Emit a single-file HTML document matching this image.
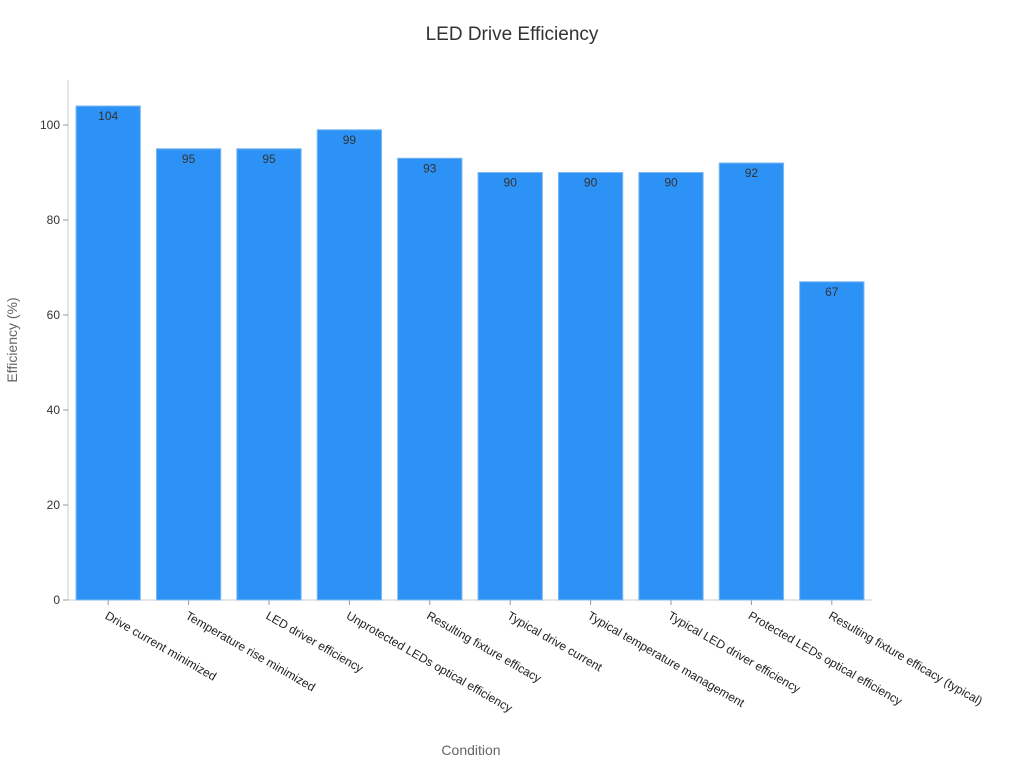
<!DOCTYPE html>
<html><head><meta charset="utf-8"><style>
body{margin:0;background:#fff;font-family:"Liberation Sans","DejaVu Sans",sans-serif}
</style></head><body>
<svg id="chart" width="1024" height="768">
<text x="512" y="40" text-anchor="middle" font-size="19" fill="#333">LED Drive Efficiency</text>
<text x="471" y="755" text-anchor="middle" font-size="14" fill="#666">Condition</text>
<text transform="translate(17,340) rotate(-90)" text-anchor="middle" font-size="14" fill="#666">Efficiency (%)</text>
<g id="axes"></g><g id="bars"></g>
</svg>
<script>
const categories=["Drive current minimized","Temperature rise minimized","LED driver efficiency","Unprotected LEDs optical efficiency","Resulting fixture efficacy","Typical drive current","Typical temperature management","Typical LED driver efficiency","Protected LEDs optical efficiency","Resulting fixture efficacy (typical)"];
const values=[104,95,95,99,93,90,90,90,92,67];
const yTicks=[0,20,40,60,80,100];
const NS="http://www.w3.org/2000/svg";
const x0=68,x1=872,yBase=600,pxPerUnit=4.75;
const band=(x1-x0)/categories.length;
function xPos(i){return x0+band*i+band/2;}
function yPos(v){return yBase-v*pxPerUnit;}
function mk(t,a,p){const e=document.createElementNS(NS,t);for(const k in a)e.setAttribute(k,a[k]);p.appendChild(e);return e;}
const axes=document.getElementById('axes'),bars=document.getElementById('bars');
const yl=mk('line',{x1:x0,x2:x0,y1:80,y2:yBase,stroke:'#ccc'},axes);


const xl=mk('line',{x1:x0,x2:x1,y1:yBase,y2:yBase,stroke:'#ccc'},axes);


yTicks.forEach(v=>{
 mk('line',{x1:x0-5,x2:x0,y1:yPos(v),y2:yPos(v),stroke:'#999'},axes);
 const t=mk('text',{x:x0-8,y:yPos(v)+4,'text-anchor':'end','font-size':12,fill:'#333'},axes);
 t.textContent=v;
 
 
});
const bw=band*0.8;
values.forEach((v,i)=>{
 const cx=xPos(i);
 const r=mk('rect',{x:cx-bw/2,y:yPos(v),width:bw,height:yBase-yPos(v),fill:'#2d92f6',stroke:'#7fb8f0','stroke-width':1},bars);
 
 
 const l=mk('text',{x:cx,y:yPos(v)+14,'text-anchor':'middle','font-size':12,fill:'#333'},bars);
 l.textContent=v;
 
 
 mk('line',{x1:cx,x2:cx,y1:yBase,y2:yBase+5,stroke:'#999'},axes);
 const c=mk('text',{x:0,y:0,'font-size':12,fill:'#222',transform:`translate(${cx-4},${yBase+18}) rotate(30)`},axes);
 c.textContent=categories[i];
 
 
});
</script>
</body></html>
